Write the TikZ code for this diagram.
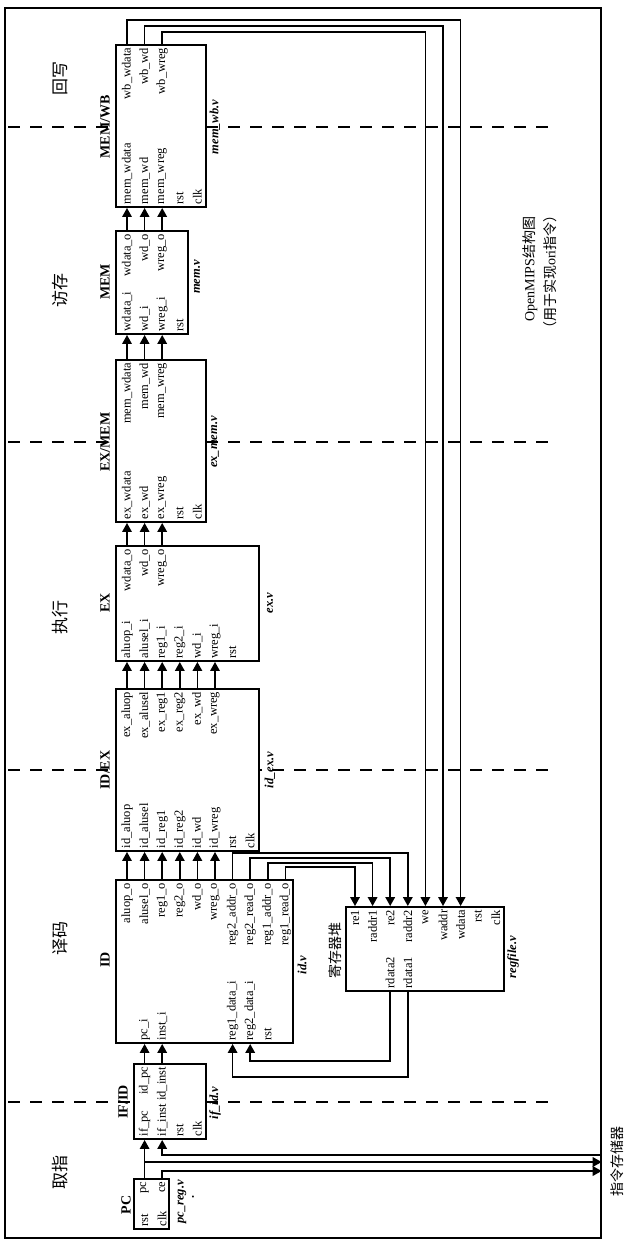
\documentclass[tikz,border=0pt]{standalone}
\usepackage{fontspec}
\setmainfont{Liberation Serif}
\newfontfamily\cjk{Noto Sans CJK SC}
\usetikzlibrary{arrows.meta}
\begin{document}
\begin{tikzpicture}[x=1pt,y=-1pt,
  blk/.style={draw, line width=1.9pt, fill=white, inner sep=0pt},
  wire/.style={line width=1.7pt},
  arr/.style={wire, -{Triangle[length=9pt,width=9.5pt]}},
  lbl/.style={rotate=90, inner xsep=3.5pt, inner ysep=1pt, font=\fontsize{12.5}{14}\selectfont},
  lt/.style={lbl, anchor=east},
  lb/.style={lbl, anchor=west},
  ttl/.style={rotate=90, inner sep=0pt, font=\fontsize{14}{16}\selectfont\bfseries},
  fname/.style={rotate=90, inner sep=0pt, font=\fontsize{12.5}{14}\selectfont\bfseries\itshape},
  stage/.style={rotate=90, inner sep=0pt, font=\cjk\fontsize{17}{19}\selectfont},
  cn/.style={rotate=90, inner sep=0pt, font=\fontsize{14}{16}\selectfont},
  sep/.style={line width=1.8pt, dash pattern=on 12pt off 10pt}
]
\useasboundingbox (0,0) rectangle (634,1245);

% column coordinates
\foreach \i in {1,...,10} \coordinate (c\i) at ({127+17.6*(\i-1)},0);
\foreach \i in {1,...,9} \coordinate (r\i) at ({355+17.6*(\i-1)},0);
\foreach \v in {20,26,32,853,858,863,867,1061,1077,1155,1162,1171} \coordinate (y\v) at (0,\v);

% frame
\node[draw, line width=1.4pt, minimum width=596pt, minimum height=1230pt, inner sep=0pt] (frame) at (303,623) {};

% stage separators
\foreach \v/\n in {1102/s1,770/s2,442/s3,127/s4} {
  \coordinate (\n a) at (8,\v);
  \coordinate (\n b) at (557,\v);
  \draw[sep] (\n a) -- (\n b);
}

% blocks
\node[blk, minimum width=35pt,  minimum height=50pt]  (pc)    at (151.5,1204) {};
\node[blk, minimum width=72pt,  minimum height=75pt]  (ifid)  at (170,1101.5) {};
\node[blk, minimum width=177pt, minimum height=163pt] (id)    at (204.5,961.5) {};
\node[blk, minimum width=143pt, minimum height=162pt] (idex)  at (187.5,770) {};
\node[blk, minimum width=143pt, minimum height=115pt] (ex)    at (187.5,603.5) {};
\node[blk, minimum width=90pt,  minimum height=162pt] (exmem) at (161,441) {};
\node[blk, minimum width=72pt,  minimum height=103pt] (mem)   at (152,282.5) {};
\node[blk, minimum width=90pt,  minimum height=162pt] (memwb) at (161,126) {};
\node[blk, minimum width=158pt, minimum height=84pt]  (rf)    at (425,949) {};

% PC
\node[lb] (pc1) at (c2 |- pc.south) {rst};
\node[lb] (pc2) at (c3 |- pc.south) {clk};
\node[lt] (pc3) at (c2 |- pc.north) {pc};
\node[lt] (pc4) at (c3 |- pc.north) {ce};
\node[ttl] (pct) at (126,1205) {PC};
\node[fname] (pcf) at (182,1202) {pc\_reg.v};
\node[rotate=90, inner sep=0pt, font=\fontsize{12}{13}\selectfont\bfseries] (pcdot) at (193,1197) {.};

% IF/ID
\foreach \i/\txt in {2/if\_pc,3/if\_inst,4/rst,5/clk} \node[lb] (ifidi\i) at (c\i |- ifid.south) {\txt};
\foreach \i/\txt in {2/id\_pc,3/id\_inst} \node[lt] (ifido\i) at (c\i |- ifid.north) {\txt};
\node[ttl] (ifidt) at (123,1102) {IF/ID};
\node[fname] (ifidf) at (215,1103) {if\_id.v};

% ID
\foreach \i/\txt in {1/aluop\_o,2/alusel\_o,3/reg1\_o,4/reg2\_o,5/wd\_o,6/wreg\_o,7/reg2\_addr\_o,8/reg2\_read\_o,9/reg1\_addr\_o,10/reg1\_read\_o}
  \node[lt] (ido\i) at (c\i |- id.north) {\txt};
\foreach \i/\txt in {2/pc\_i,3/inst\_i,7/reg1\_data\_i,8/reg2\_data\_i,9/rst}
  \node[lb] (idi\i) at (c\i |- id.south) {\txt};
\node[ttl] (idt) at (105,960) {ID};
\node[fname] (idf) at (302,965) {id.v};

% ID/EX
\foreach \i/\txt in {1/ex\_aluop,2/ex\_alusel,3/ex\_reg1,4/ex\_reg2,5/ex\_wd,6/ex\_wreg}
  \node[lt] (idexo\i) at (c\i |- idex.north) {\txt};
\foreach \i/\txt in {1/id\_aluop,2/id\_alusel,3/id\_reg1,4/id\_reg2,5/id\_wd,6/id\_wreg,7/rst,8/clk}
  \node[lb] (idexi\i) at (c\i |- idex.south) {\txt};
\node[ttl] (idext) at (105,770) {ID/EX};
\node[fname] (idexf) at (270,770) {id\_ex.v};

% EX
\foreach \i/\txt in {1/wdata\_o,2/wd\_o,3/wreg\_o}
  \node[lt] (exo\i) at (c\i |- ex.north) {\txt};
\foreach \i/\txt in {1/aluop\_i,2/alusel\_i,3/reg1\_i,4/reg2\_i,5/wd\_i,6/wreg\_i,7/rst}
  \node[lb] (exi\i) at (c\i |- ex.south) {\txt};
\node[ttl] (ext) at (105,603) {EX};
\node[fname] (exf) at (270,603) {ex.v};

% EX/MEM
\foreach \i/\txt in {1/mem\_wdata,2/mem\_wd,3/mem\_wreg}
  \node[lt] (exmemo\i) at (c\i |- exmem.north) {\txt};
\foreach \i/\txt in {1/ex\_wdata,2/ex\_wd,3/ex\_wreg,4/rst,5/clk}
  \node[lb] (exmemi\i) at (c\i |- exmem.south) {\txt};
\node[ttl] (exmemt) at (105,442) {EX/MEM};
\node[fname] (exmemf) at (215,442) {ex\_mem.v};

% MEM
\foreach \i/\txt in {1/wdata\_o,2/wd\_o,3/wreg\_o}
  \node[lt] (memo\i) at (c\i |- mem.north) {\txt};
\foreach \i/\txt in {1/wdata\_i,2/wd\_i,3/wreg\_i,4/rst}
  \node[lb] (memi\i) at (c\i |- mem.south) {\txt};
\node[ttl] (memt) at (105,282) {MEM};
\node[fname] (memf) at (197,277) {mem.v};

% MEM/WB
\foreach \i/\txt in {1/wb\_wdata,2/wb\_wd,3/wb\_wreg}
  \node[lt] (memwbo\i) at (c\i |- memwb.north) {\txt};
\foreach \i/\txt in {1/mem\_wdata,2/mem\_wd,3/mem\_wreg,4/rst,5/clk}
  \node[lb] (memwbi\i) at (c\i |- memwb.south) {\txt};
\node[ttl] (memwbt) at (105,127) {MEM/WB};
\node[fname] (memwbf) at (215,127) {mem\_wb.v};

% regfile
\foreach \i/\txt in {1/re1,2/raddr1,3/re2,4/raddr2,5/we,6/waddr,7/wdata,8/rst,9/clk}
  \node[lt] (rfi\i) at (r\i |- rf.north) {\txt};
\foreach \i/\txt in {3/rdata2,4/rdata1}
  \node[lb] (rfo\i) at (r\i |- rf.south) {\txt};
\node[cn] (rft) at (335,950) {\cjk 寄存器堆};
\node[fname] (rff) at (513,957) {regfile.v};

% stage names
\node[stage] (st1) at (60,1172) {取指};
\node[stage] (st2) at (60,938) {译码};
\node[stage] (st3) at (60,617) {执行};
\node[stage] (st4) at (60,290) {访存};
\node[stage] (st5) at (60,78) {回写};

% notes
\node[cn] (imem) at (617,1161) {\cjk 指令存储器};
\node[cn] (note1) at (530,269) {OpenMIPS{\cjk 结构图}};
\node[cn] (note2) at (550,272) {{\cjk （用于实现}ori{\cjk 指令）}};

% ---- connectors ----
\draw[arr] (pc.north -| c2) -- (ifid.south -| c2);
\draw[arr] (c2 |- y1162) -- (frame.east |- y1162);
\draw[arr] (pc.north -| c3) |- (frame.east |- y1171);
\draw[arr] (frame.east |- y1155) -| (ifid.south -| c3);

\foreach \i in {2,3} \draw[arr] (ifid.north -| c\i) -- (id.south -| c\i);
\foreach \i in {1,...,6} \draw[arr] (id.north -| c\i) -- (idex.south -| c\i);
\foreach \i in {1,...,6} \draw[arr] (idex.north -| c\i) -- (ex.south -| c\i);
\foreach \i in {1,2,3} \draw[arr] (ex.north -| c\i) -- (exmem.south -| c\i);
\foreach \i in {1,2,3} \draw[arr] (exmem.north -| c\i) -- (mem.south -| c\i);
\foreach \i in {1,2,3} \draw[arr] (mem.north -| c\i) -- (memwb.south -| c\i);

% write back to regfile
\draw[arr] (memwb.north -| c1) |- (y20 -| r7) -- (rf.north -| r7);
\draw[arr] (memwb.north -| c2) |- (y26 -| r6) -- (rf.north -| r6);
\draw[arr] (memwb.north -| c3) |- (y32 -| r5) -- (rf.north -| r5);

% ID -> regfile
\draw[arr] (id.north -| c7) |- (y853 -| r4) -- (rf.north -| r4);
\draw[arr] (id.north -| c8) |- (y858 -| r3) -- (rf.north -| r3);
\draw[arr] (id.north -| c9) |- (y863 -| r2) -- (rf.north -| r2);
\draw[arr] (id.north -| c10) |- (y867 -| r1) -- (rf.north -| r1);

% regfile -> ID
\draw[arr] (rf.south -| r4) |- (y1077 -| c7) -- (id.south -| c7);
\draw[arr] (rf.south -| r3) |- (y1061 -| c8) -- (id.south -| c8);
\end{tikzpicture}
\end{document}
